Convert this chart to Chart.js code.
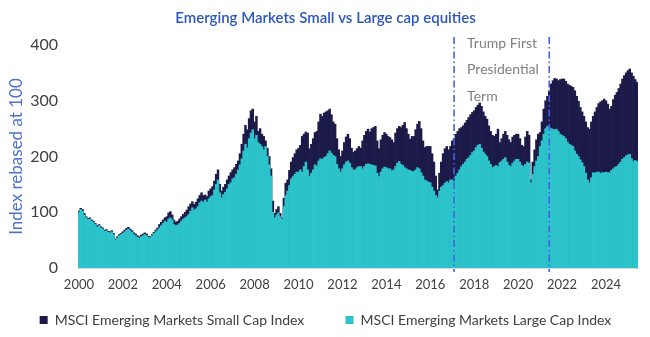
<!DOCTYPE html>
<html>
<head>
<meta charset="utf-8">
<script src="https://cdn.jsdelivr.net/npm/chart.js@4.4.1/dist/chart.umd.min.js"></script>
<style>
  html, body { margin: 0; padding: 0; background: #fff; }
  #wrap { width: 650px; height: 337px; }
</style>
</head>
<body>
<div id="wrap"><canvas id="chart" width="650" height="337"></canvas></div>
<script>
// monthly data, Jan 2000 onwards (index rebased at 100)
const startYear = 2000;

const smallCap = [
  102,107,105,98,92,89,90,86,84,80,76,78,
  74,72,68,69,66,65,67,62,52,56,60,62,
  65,68,71,73,70,67,63,61,58,56,59,61,
  63,61,57,56,60,64,68,72,78,82,86,90,
  92,99,101,95,86,82,84,88,92,96,100,104,
  110,115,119,114,118,124,130,135,130,131,128,138,
  142,146,156,168,176,150,138,145,150,158,165,171,
  176,180,186,192,205,222,240,256,248,268,282,285,
  262,272,245,250,240,236,228,215,200,178,120,98,
  105,110,98,90,125,152,158,175,190,198,205,212,
  215,220,236,240,244,242,214,222,232,243,245,262,
  276,272,278,280,282,285,275,262,258,232,212,200,
  210,225,235,240,232,215,208,210,214,218,215,228,
  238,245,249,244,250,252,254,228,214,230,238,243,
  240,236,234,230,225,242,250,254,252,256,261,250,
  240,231,236,236,248,258,263,250,228,216,218,218,
  218,205,190,165,140,170,190,205,214,218,212,218,
  228,232,240,245,250,252,255,260,265,270,275,279,
  282,288,292,296,290,280,272,267,255,245,238,236,
  240,249,225,232,240,245,238,230,225,235,238,240,
  240,232,220,218,235,245,238,158,190,212,230,240,
  243,262,285,300,308,318,330,336,340,339,336,338,
  339,339,335,330,328,326,324,318,308,299,288,280,
  272,262,252,249,262,272,280,288,295,298,300,303,
  300,294,285,290,302,310,315,322,330,339,345,350,
  354,357,350,344,338,333
];

const largeCap = [
  100,105,102,95,90,87,88,84,82,78,73,76,
  72,70,66,67,64,63,65,60,50,54,58,60,
  62,65,68,70,67,64,60,58,55,53,56,58,
  60,58,55,54,58,62,65,68,72,76,80,84,
  82,88,90,86,78,76,77,80,84,88,90,92,
  96,102,108,104,106,110,117,120,118,122,118,124,
  128,130,140,150,158,135,126,132,136,142,150,153,
  160,162,168,176,185,196,210,222,215,232,242,248,
  232,238,225,222,218,212,218,200,185,165,100,90,
  95,99,92,88,110,130,138,148,160,164,168,172,
  172,176,172,182,190,176,165,170,176,185,183,192,
  196,195,198,200,205,210,206,202,200,186,178,172,
  178,185,190,192,188,180,176,176,180,182,182,178,
  182,186,187,186,185,184,183,170,164,172,178,181,
  180,178,178,174,176,182,188,191,186,184,180,178,
  176,175,173,173,176,180,178,171,165,158,156,154,
  153,145,138,130,126,138,145,148,152,155,153,158,
  158,155,165,170,176,182,186,190,195,198,202,207,
  210,216,220,222,215,208,204,200,192,186,180,182,
  184,182,189,192,195,198,190,184,182,188,192,195,
  195,190,184,182,186,190,188,153,168,182,192,200,
  218,228,240,250,254,252,250,249,248,249,245,240,
  238,236,232,226,222,220,218,210,204,200,194,189,
  182,170,158,153,162,171,170,172,172,170,171,171,
  172,171,171,175,178,181,182,186,190,195,198,201,
  203,204,196,191,193,191
];

const seriesNames = ['MSCI Emerging Markets Small Cap Index', 'MSCI Emerging Markets Large Cap Index'];
const yTicks = [0, 100, 200, 300, 400];
const termMarks = ['2017-02', '2021-06'];
const termNote = ['Trump First', 'Presidential', 'Term'];

const months = smallCap.map((_, i) => {
  const y = startYear + Math.floor(i / 12);
  const m = (i % 12) + 1;
  return y + '-' + String(m).padStart(2, '0');
});

const FONT = 'Lato, "Open Sans", sans-serif';

// dash-dot vertical lines + note
const termLines = {
  id: 'termLines',
  afterDatasetsDraw(chart) {
    const ctx = chart.ctx;
    const x = chart.scales.x;
    const area = chart.chartArea;
    ctx.save();
    ctx.strokeStyle = '#4562e4';
    ctx.lineWidth = 1.6;
    ctx.setLineDash([7, 3, 1.5, 3]);
    const xs = termMarks.map(m => x.getPixelForValue(months.indexOf(m)));
    xs.forEach(px => {
      ctx.beginPath();
      ctx.moveTo(px, area.top - 8);
      ctx.lineTo(px, area.bottom + 4);
      ctx.stroke();
    });
    ctx.setLineDash([]);
    ctx.fillStyle = '#7f7f7f';
    ctx.font = '14px ' + FONT;
    ctx.textBaseline = 'middle';
    termNote.forEach((t, i) => {
      ctx.fillText(t, xs[0] + 13, area.top - 2 + i * 26.5);
    });
    ctx.restore();
  }
};

new Chart(document.getElementById('chart'), {
  type: 'bar',
  data: {
    labels: months,
    datasets: [{
      label: seriesNames[0],
      data: smallCap,
      backgroundColor: '#1c1a48',
      order: 2
    }, {
      label: seriesNames[1],
      data: largeCap,
      backgroundColor: '#2cc3ca',
      order: 1
    }]
  },
  options: {
    responsive: false,
    animation: false,
    layout: { padding: { left: 13, right: 12, top: 0, bottom: 0 } },
    datasets: {
      bar: { barPercentage: 1, categoryPercentage: 1, grouped: false, borderWidth: 0 }
    },
    plugins: {
      title: {
        display: true,
        text: 'Emerging Markets Small vs Large cap equities',
        color: '#2a55c2',
        font: { family: FONT, size: 15, weight: '600' },
        padding: { top: 9, bottom: 18 }
      },
      legend: {
        position: 'bottom',
        labels: {
          color: '#404040',
          font: { family: FONT, size: 14 },
          boxWidth: 8,
          boxHeight: 8,
          padding: 9,
          sort: (a, b) => a.datasetIndex - b.datasetIndex,
          generateLabels(chart) {
            const items = Chart.defaults.plugins.legend.labels.generateLabels(chart);
            // extra room after the first series, as in the original legend
            items.forEach(it => { if (it.datasetIndex === 0) it.text += '         '; });
            return items;
          }
        }
      },
      tooltip: { enabled: false }
    },
    scales: {
      x: {
        grid: { display: false, drawTicks: false },
        border: { display: true, color: '#d9d9d9' },
        ticks: {
          autoSkip: false,
          maxRotation: 0,
          padding: 9,
          color: '#404040',
          font: { family: FONT, size: 13 },
          callback(v) {
            const lab = months[v];
            return lab.endsWith('-01') && (+lab.slice(0, 4)) % 2 === 0 ? lab.slice(0, 4) : '';
          }
        },
        afterFit(scale) { scale.height = 36; }
      },
      y: {
        min: 0,
        max: 400,
        afterBuildTicks(scale) { scale.ticks = yTicks.map(v => ({ value: v })); },
        grid: { display: false },
        border: { display: false },
        ticks: {
          padding: 12,
          color: '#404040',
          font: { family: FONT, size: 16 }
        },
        title: {
          display: true,
          text: 'Index rebased at 100',
          color: '#4f72c9',
          font: { family: FONT, size: 17 },
          padding: { top: -7, bottom: 0 }
        },
        afterFit(scale) { scale.width = 65; }
      }
    }
  },
  plugins: [termLines]
});
</script>
</body>
</html>
